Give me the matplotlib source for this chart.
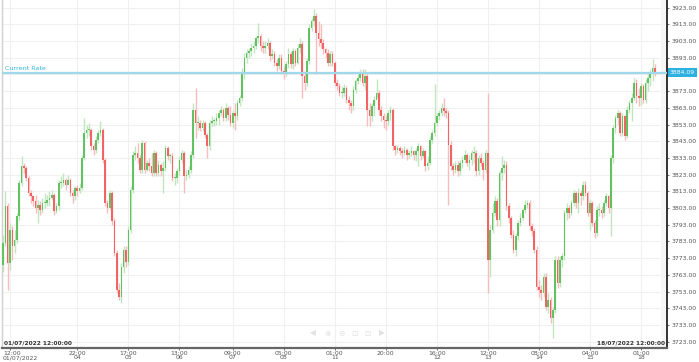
import matplotlib
matplotlib.use("Agg")
import matplotlib.pyplot as plt
import matplotlib.transforms as mtransforms
import numpy as np

# hourly candles, 01/07/2022 12:00 -> 18/07/2022 12:00
first_open = 3769
closes = [
    3782, 3804, 3770, 3790, 3780, 3784, 3798, 3818, 3828, 3827, 3821, 3812, 3810, 3807, 3803, 3805,
    3802, 3806, 3806, 3808, 3809, 3811, 3801, 3804, 3818, 3818, 3820, 3817, 3820, 3812, 3810, 3815,
    3813, 3815, 3833, 3848, 3850, 3850, 3840, 3838, 3844, 3848, 3850, 3832, 3806, 3803, 3812, 3795,
    3776, 3754, 3750, 3768, 3778, 3771, 3790, 3814, 3835, 3836, 3833, 3826, 3842, 3826, 3830, 3828,
    3824, 3836, 3824, 3829, 3825, 3827, 3839, 3834, 3834, 3821, 3821, 3825, 3832, 3836, 3822, 3823,
    3826, 3835, 3862, 3854, 3854, 3851, 3854, 3847, 3840, 3854, 3855, 3855, 3857, 3860, 3862, 3857,
    3863, 3859, 3854, 3860, 3858, 3866, 3869, 3884, 3893, 3896, 3897, 3899, 3900, 3905, 3906, 3900,
    3899, 3900, 3902, 3894, 3895, 3890, 3888, 3893, 3885, 3884, 3889, 3895, 3889, 3897, 3890, 3899,
    3901, 3882, 3878, 3891, 3911, 3915, 3918, 3908, 3904, 3902, 3898, 3896, 3890, 3895, 3890, 3878,
    3876, 3872, 3872, 3875, 3868, 3866, 3864, 3874, 3879, 3881, 3884, 3878, 3882, 3862, 3858, 3864,
    3868, 3872, 3862, 3858, 3856, 3855, 3860, 3862, 3840, 3838, 3839, 3837, 3836, 3838, 3835, 3836,
    3837, 3835, 3837, 3840, 3834, 3837, 3828, 3830, 3844, 3848, 3854, 3858, 3860, 3863, 3861, 3860,
    3841, 3828, 3826, 3829, 3825, 3830, 3832, 3835, 3830, 3832, 3836, 3836, 3825, 3833, 3830, 3826,
    3836, 3772, 3790, 3800, 3807, 3796, 3824, 3827, 3829, 3804, 3797, 3787, 3778, 3786, 3794, 3797,
    3802, 3805, 3806, 3792, 3789, 3778, 3756, 3754, 3752, 3762, 3744, 3748, 3737, 3742, 3772, 3758,
    3772, 3774, 3800, 3803, 3800, 3806, 3812, 3806, 3812, 3810, 3817, 3812, 3800, 3806, 3794, 3788,
    3802, 3802, 3800, 3806, 3810, 3803, 3833, 3851, 3857, 3860, 3848, 3858, 3846, 3862, 3866, 3869,
    3878, 3870, 3869, 3876, 3868, 3878, 3881, 3884, 3887, 3884.09,
]
highs = [
    3787, 3813, 3806, 3794, 3792, 3790, 3800, 3820, 3834, 3830, 3828, 3822, 3814, 3810, 3811, 3808,
    3807, 3809, 3812, 3811, 3813, 3814, 3812, 3806, 3820, 3822, 3824, 3821, 3823, 3821, 3814, 3816,
    3817, 3818, 3835, 3857, 3853, 3854, 3851, 3842, 3846, 3850, 3855, 3851, 3833, 3808, 3814, 3813,
    3797, 3778, 3758, 3770, 3780, 3780, 3792, 3816, 3837, 3840, 3842, 3835, 3844, 3843, 3832, 3833,
    3836, 3838, 3837, 3832, 3830, 3831, 3841, 3840, 3836, 3836, 3824, 3827, 3834, 3838, 3837, 3826,
    3828, 3837, 3866, 3875, 3858, 3856, 3856, 3855, 3848, 3856, 3858, 3857, 3860, 3862, 3864, 3863,
    3866, 3864, 3864, 3862, 3866, 3868, 3871, 3887, 3896, 3898, 3899, 3902, 3903, 3906, 3914, 3907,
    3903, 3903, 3905, 3903, 3898, 3897, 3892, 3895, 3895, 3888, 3891, 3899, 3897, 3899, 3898, 3901,
    3905, 3903, 3885, 3893, 3913, 3917, 3922, 3920, 3915, 3913, 3904, 3899, 3898, 3897, 3897, 3891,
    3880, 3878, 3876, 3877, 3876, 3870, 3868, 3876, 3880, 3883, 3886, 3886, 3886, 3884, 3866, 3866,
    3870, 3880, 3874, 3864, 3860, 3859, 3862, 3864, 3863, 3841, 3841, 3840, 3839, 3840, 3839, 3838,
    3840, 3838, 3839, 3842, 3841, 3839, 3838, 3834, 3846, 3850, 3877, 3860, 3862, 3866, 3869, 3863,
    3862, 3843, 3830, 3831, 3831, 3832, 3834, 3838, 3836, 3835, 3838, 3840, 3838, 3835, 3836, 3832,
    3838, 3872, 3793, 3806, 3810, 3809, 3826, 3834, 3832, 3831, 3806, 3798, 3790, 3788, 3796, 3800,
    3803, 3808, 3808, 3808, 3794, 3791, 3780, 3760, 3757, 3764, 3764, 3752, 3750, 3744, 3774, 3774,
    3774, 3776, 3802, 3806, 3805, 3808, 3814, 3813, 3815, 3814, 3819, 3819, 3813, 3808, 3807, 3796,
    3804, 3806, 3804, 3808, 3812, 3811, 3835, 3853, 3859, 3862, 3861, 3860, 3859, 3864, 3868, 3872,
    3881, 3880, 3875, 3878, 3877, 3880, 3883, 3886, 3892, 3889,
]
lows = [
    3765, 3780, 3754, 3766, 3772, 3776, 3782, 3796, 3816, 3824, 3819, 3810, 3806, 3804, 3800, 3794,
    3799, 3800, 3803, 3804, 3804, 3808, 3799, 3800, 3802, 3815, 3816, 3814, 3818, 3810, 3806, 3808,
    3810, 3812, 3814, 3832, 3845, 3846, 3838, 3835, 3836, 3842, 3846, 3830, 3804, 3800, 3802, 3793,
    3774, 3752, 3748, 3746, 3764, 3768, 3769, 3788, 3812, 3832, 3830, 3824, 3824, 3824, 3825, 3825,
    3822, 3822, 3822, 3822, 3822, 3812, 3825, 3832, 3830, 3819, 3817, 3818, 3823, 3830, 3812, 3820,
    3821, 3824, 3833, 3845, 3850, 3849, 3849, 3845, 3833, 3838, 3852, 3852, 3853, 3853, 3858, 3855,
    3855, 3856, 3852, 3851, 3850, 3856, 3864, 3867, 3880, 3890, 3893, 3894, 3896, 3898, 3902, 3897,
    3896, 3896, 3898, 3891, 3892, 3888, 3885, 3886, 3883, 3880, 3882, 3887, 3887, 3886, 3888, 3889,
    3896, 3869, 3874, 3876, 3889, 3909, 3912, 3883, 3900, 3899, 3895, 3893, 3888, 3888, 3888, 3876,
    3874, 3870, 3869, 3870, 3866, 3862, 3860, 3862, 3872, 3877, 3879, 3876, 3874, 3852, 3852, 3855,
    3858, 3869, 3859, 3855, 3851, 3850, 3853, 3856, 3838, 3835, 3836, 3835, 3833, 3835, 3832, 3833,
    3834, 3832, 3831, 3828, 3832, 3833, 3825, 3826, 3829, 3842, 3846, 3852, 3856, 3858, 3858, 3857,
    3805, 3826, 3823, 3824, 3822, 3823, 3827, 3830, 3828, 3826, 3829, 3830, 3822, 3823, 3828, 3820,
    3824, 3752, 3762, 3788, 3798, 3792, 3792, 3820, 3824, 3802, 3794, 3785, 3776, 3774, 3784, 3792,
    3796, 3800, 3803, 3790, 3786, 3776, 3754, 3750, 3748, 3750, 3742, 3740, 3734, 3725, 3740, 3755,
    3756, 3768, 3772, 3796, 3797, 3799, 3804, 3803, 3800, 3805, 3808, 3810, 3798, 3790, 3792, 3785,
    3786, 3798, 3797, 3798, 3804, 3800, 3786, 3830, 3848, 3853, 3846, 3846, 3844, 3845, 3860, 3855,
    3868, 3866, 3864, 3865, 3866, 3866, 3873, 3876, 3879, 3882,
]
opens = [first_open] + closes[:-1]

tick_idx = [3, 32, 54, 76, 99, 121, 143, 165, 187, 209, 231, 253, 275]
tick_txt = ["12:00\n01/07/2022", "22:00\n04", "17:00\n05", "13:00\n06", "09:00\n07", "05:00\n08",
            "01:00\n11", "20:00\n", "16:00\n12", "12:00\n13", "08:00\n14", "04:00\n15", "01:00\n18"]
current_rate = 3884.09

fig = plt.figure(figsize=(6.99, 3.62), dpi=100)
ax = fig.add_axes([2/699, 14/362, 665/699, 348/362])

x = np.arange(len(closes))
o = np.array(opens)
c = np.array(closes)
up = c >= o
green, red = "#62c262", "#f26464"
green_w, red_w = "#bfe6bf", "#f8bcbc"

ax.vlines(x[up], np.array(lows)[up], np.array(highs)[up], color=green_w, lw=1, zorder=2)
ax.vlines(x[~up], np.array(lows)[~up], np.array(highs)[~up], color=red_w, lw=1, zorder=2)
bot = np.minimum(o, c)
hgt = np.maximum(np.abs(c - o), 0.6)
ax.bar(x[up], hgt[up], bottom=bot[up], width=0.7, color=green, lw=0, zorder=3)
ax.bar(x[~up], hgt[~up], bottom=bot[~up], width=0.7, color=red, lw=0, zorder=3)

ax.set_xlim(-0.45, 286.2)
ax.set_ylim(3719.2, 3927.6)

ax.set_yticks(np.arange(3723, 3924, 10))
ax.yaxis.tick_right()
ax.yaxis.set_major_formatter(matplotlib.ticker.FormatStrFormatter("%.2f"))
ax.set_xticks(tick_idx)
ax.set_xticklabels(tick_txt)
ax.tick_params(axis="both", labelsize=4.4, colors="#555555", length=1.5, width=0.6, pad=1.5)
ax.tick_params(axis="x", pad=0.5)
for t in ax.get_xticklabels():
    t.set_linespacing(0.85)
# first label sits flush with the left edge
lbl0 = ax.get_xticklabels()[0]
lbl0.set_horizontalalignment("left")
lbl0.set_multialignment("left")
lbl0.set_transform(lbl0.get_transform() + mtransforms.ScaledTranslation(-7/100, 0, fig.dpi_scale_trans))

ax.grid(True, color="#f0f0f0", lw=0.8, zorder=0)
ax.set_axisbelow(True)

ax.axvspan(283.5, 286.2, color="#f6f6f6", zorder=1)

ax.spines["top"].set_visible(False)
ax.spines["left"].set_color("#d0d0d0")
ax.spines["left"].set_linewidth(1)
ax.spines["right"].set_color("#222222")
ax.spines["right"].set_linewidth(1.3)
ax.spines["bottom"].set_color("#666666")
ax.spines["bottom"].set_linewidth(1.6)

# current rate line and labels
ax.axhline(current_rate, color="#9ed8ea", lw=1.6, zorder=4)
ax.text(0.8, current_rate + 1.2, "Current Rate", color="#35b4dc", fontsize=4.6, va="bottom", ha="left")
ax.text(1.004, current_rate, "%.2f" % current_rate, transform=ax.get_yaxis_transform(),
        color="white", fontsize=4.4, va="center", ha="left", zorder=6,
        bbox=dict(boxstyle="square,pad=0.3", fc="#2bb0e0", ec="none"))

ax.text(0.003, 0.008, "01/07/2022 12:00:00", transform=ax.transAxes, fontsize=4.2,
        color="#333333", fontweight="bold", va="bottom", ha="left")
ax.text(0.997, 0.008, "18/07/2022 12:00:00", transform=ax.transAxes, fontsize=4.2,
        color="#333333", fontweight="bold", va="bottom", ha="right")

# faint navigation controls
for px, g in zip([313, 327, 341, 354, 367, 382], ["◀", "⊕", "⊖", "⊡", "⊡", "▶"]):
    fig.text(px/699, 1 - 333/362, g, fontsize=5.5, color="#e2e2e2", ha="center", va="center")

fig.savefig("out.png", dpi=100)
